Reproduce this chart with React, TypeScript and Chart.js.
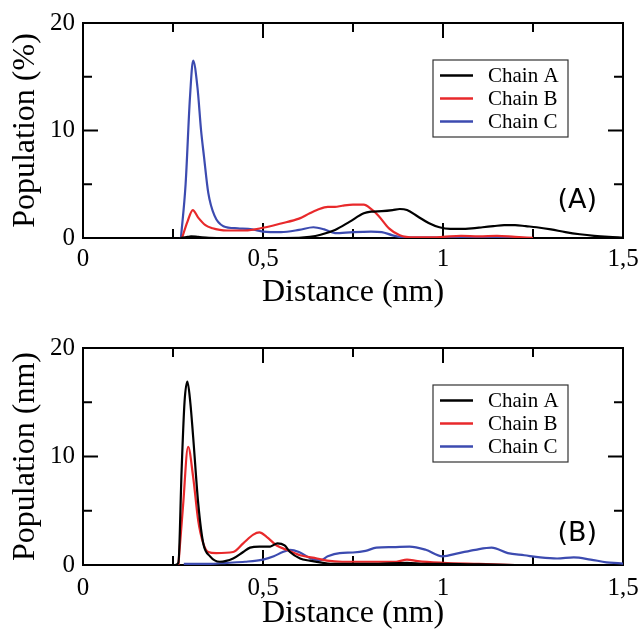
import React, { useEffect, useRef } from 'react';
import { Chart, registerables } from 'chart.js';

Chart.register(...registerables);

// ---------- data ----------
const seriesNames = ['Chain A', 'Chain B', 'Chain C'];
const seriesColors = ['#000000', '#e8292b', '#3c4bb0'];
const xTickStep = 0.5;
const yTickStep = 10;

// Panel (A)
const topAx = [0.27, 0.29, 0.3, 0.32, 0.35, 0.4, 0.5, 0.6, 0.63, 0.66, 0.7, 0.74, 0.78, 0.8, 0.83, 0.86, 0.88, 0.9, 0.93, 0.96, 0.99, 1.02, 1.05, 1.08, 1.11, 1.14, 1.17, 1.2, 1.23, 1.26, 1.3, 1.34, 1.38, 1.42, 1.46, 1.5];
const topAy = [0, 0.1, 0.15, 0.1, 0.02, 0, 0, 0.02, 0.1, 0.3, 0.75, 1.5, 2.3, 2.45, 2.5, 2.6, 2.7, 2.6, 2.0, 1.4, 1.0, 0.85, 0.85, 0.9, 1.0, 1.1, 1.2, 1.2, 1.1, 1.0, 0.8, 0.55, 0.35, 0.2, 0.1, 0.03];
const topBx = [0.275, 0.29, 0.305, 0.32, 0.34, 0.36, 0.38, 0.4, 0.45, 0.5, 0.55, 0.6, 0.63, 0.65, 0.68, 0.7, 0.72, 0.75, 0.78, 0.8, 0.82, 0.85, 0.88, 0.92, 0.96, 1.0, 1.05, 1.1, 1.15, 1.2, 1.25];
const topBy = [0, 1.5, 2.6, 1.9, 1.2, 0.9, 0.75, 0.7, 0.7, 0.95, 1.35, 1.8, 2.3, 2.6, 2.9, 2.9, 3.0, 3.1, 3.1, 2.7, 2.1, 0.9, 0.25, 0.05, 0.05, 0.1, 0.2, 0.15, 0.2, 0.1, 0.02];
const topCx = [0.272, 0.285, 0.297, 0.306, 0.318, 0.328, 0.336, 0.348, 0.365, 0.39, 0.43, 0.47, 0.5, 0.55, 0.6, 0.64, 0.67, 0.7, 0.75, 0.8, 0.83, 0.86, 0.89, 0.95, 1.05, 1.15, 1.22];
const topCy = [0, 5, 13, 16.5, 14, 10, 7.6, 4.2, 2.1, 1.1, 0.9, 0.8, 0.6, 0.55, 0.75, 1.0, 0.8, 0.45, 0.55, 0.6, 0.55, 0.25, 0.05, 0.03, 0.05, 0.03, 0];

// Panel (B)
const botAx = [0.255, 0.265, 0.274, 0.282, 0.29, 0.298, 0.306, 0.32, 0.334, 0.353, 0.38, 0.417, 0.445, 0.464, 0.49, 0.52, 0.54, 0.56, 0.575, 0.603, 0.63, 0.667, 0.7, 0.8, 0.9, 0.95, 1.0, 1.1, 1.2];
const botAy = [0, 0.2, 8.8, 15, 16.9, 15, 11.8, 5.7, 2.0, 0.8, 0.3, 0.6, 1.2, 1.6, 1.7, 1.7, 2.0, 1.8, 1.2, 0.6, 0.4, 0.2, 0.1, 0.1, 0.2, 0.1, 0.1, 0.05, 0];
const botBx = [0.265, 0.278, 0.292, 0.306, 0.32, 0.334, 0.348, 0.37, 0.417, 0.445, 0.473, 0.49, 0.51, 0.538, 0.566, 0.603, 0.65, 0.678, 0.72, 0.8, 0.87, 0.9, 0.93, 1.0, 1.1, 1.2];
const botBy = [0, 5.5, 10.9, 8.1, 4.1, 2.0, 1.2, 1.1, 1.2, 2.0, 2.8, 3.0, 2.6, 1.8, 1.4, 0.9, 0.6, 0.4, 0.3, 0.3, 0.3, 0.5, 0.35, 0.2, 0.1, 0];
const botCx = [0.28, 0.35, 0.4, 0.45, 0.5, 0.53, 0.555, 0.575, 0.6, 0.633, 0.66, 0.68, 0.713, 0.75, 0.785, 0.815, 0.86, 0.907, 0.952, 0.998, 1.044, 1.09, 1.135, 1.18, 1.226, 1.27, 1.317, 1.363, 1.41, 1.454, 1.494, 1.5];
const botCy = [0.1, 0.1, 0.2, 0.3, 0.5, 0.8, 1.2, 1.4, 1.2, 0.6, 0.45, 0.8, 1.1, 1.15, 1.3, 1.6, 1.65, 1.7, 1.4, 0.8, 1.1, 1.4, 1.6, 1.1, 0.9, 0.7, 0.6, 0.7, 0.5, 0.25, 0.15, 0.12];

const SERIF = "'Liberation Serif', 'Times New Roman', serif";

const pts = (xs: number[], ys: number[]) => xs.map((x, i) => ({ x, y: ys[i] }));

const framePlugin = {
  id: 'frame',
  beforeDatasetsDraw(chart: any) {
    const { ctx, chartArea } = chart;
    const { left, right, top, bottom } = chartArea;
    const x = chart.scales.x;
    const y = chart.scales.y;
    ctx.save();
    ctx.strokeStyle = '#000';
    ctx.lineWidth = 2;
    ctx.strokeRect(left, top, right - left, bottom - top);
    ctx.beginPath();
    for (let i = 0; i <= 6; i++) {
      const v = i * 0.25;
      const px = x.getPixelForValue(v);
      const len = i % 2 === 0 ? 15 : 9;
      ctx.moveTo(px, bottom);
      ctx.lineTo(px, bottom - len);
      ctx.moveTo(px, top);
      ctx.lineTo(px, top + len);
    }
    for (let i = 0; i <= 4; i++) {
      const v = i * 5;
      const py = y.getPixelForValue(v);
      const len = i % 2 === 0 ? 15 : 9;
      ctx.moveTo(left, py);
      ctx.lineTo(left + len, py);
      ctx.moveTo(right, py);
      ctx.lineTo(right - len, py);
    }
    ctx.stroke();
    ctx.restore();
  },
  afterDraw(chart: any, _args: any, opts: any) {
    const { ctx, chartArea } = chart;
    const { left, right, top, bottom } = chartArea;
    ctx.save();
    // legend
    const bx = left + 350;
    const by = top + 37;
    const bw = 135;
    const bh = 77;
    ctx.fillStyle = '#fff';
    ctx.fillRect(bx, by, bw, bh);
    ctx.strokeStyle = '#333';
    ctx.lineWidth = 1.2;
    ctx.strokeRect(bx, by, bw, bh);
    ctx.font = `21px ${SERIF}`;
    ctx.textBaseline = 'middle';
    ctx.textAlign = 'left';
    chart.data.datasets.forEach((ds: any, i: number) => {
      const ly = by + 15.5 + i * 23;
      ctx.strokeStyle = ds.borderColor;
      ctx.lineWidth = 2.5;
      ctx.beginPath();
      ctx.moveTo(bx + 7, ly);
      ctx.lineTo(bx + 40, ly);
      ctx.stroke();
      ctx.fillStyle = '#000';
      ctx.fillText(ds.label, bx + 55, ly + 1);
    });
    // panel label
    ctx.font = "27px 'DejaVu Sans', sans-serif";
    ctx.textAlign = 'right';
    ctx.textBaseline = 'middle';
    ctx.fillStyle = '#000';
    ctx.fillText(opts.label, right - 26, bottom - opts.labelOffset);
    ctx.restore();
  },
};

function makeConfig(
  data: { x: number[]; y: number[] }[],
  yTitle: string,
  panel: string,
  labelOffset: number,
  xAxisHeight: number,
  titlePad: number,
  topPad: number,
  tickPad: number
): any {
  return {
    type: 'line',
    data: {
      datasets: data.map((d, i) => ({
        label: seriesNames[i],
        data: pts(d.x, d.y),
        borderColor: seriesColors[i],
        backgroundColor: seriesColors[i],
        borderWidth: 2.2,
        pointRadius: 0,
        fill: false,
        cubicInterpolationMode: 'monotone',
      })),
    },
    options: {
      responsive: false,
      animation: false,
      layout: { padding: { top: topPad, right: 20, bottom: 0, left: 0 } },
      plugins: {
        legend: { display: false },
        tooltip: { enabled: false },
        frame: { label: panel, labelOffset },
      },
      scales: {
        x: {
          type: 'linear',
          min: 0,
          max: 1.5,
          grid: { display: false, drawTicks: false },
          border: { display: false },
          ticks: {
            stepSize: xTickStep,
            autoSkip: false,
            maxRotation: 0,
            padding: tickPad,
            color: '#000',
            font: { family: SERIF, size: 25 },
            callback: (v: number) => String(v).replace('.', ','),
          },
          title: {
            display: true,
            text: 'Distance (nm)',
            color: '#000',
            font: { family: SERIF, size: 32 },
            padding: { top: 0, bottom: titlePad },
          },
          afterFit: (s: any) => {
            s.height = xAxisHeight;
            s.paddingLeft = 0;
            s.paddingRight = 0;
          },
        },
        y: {
          type: 'linear',
          min: 0,
          max: 20,
          grid: { display: false, drawTicks: false },
          border: { display: false },
          ticks: {
            stepSize: yTickStep,
            padding: 8,
            color: '#000',
            font: { family: SERIF, size: 25 },
          },
          title: {
            display: true,
            text: yTitle,
            color: '#000',
            font: { family: SERIF, size: 32 },
            padding: { top: 6, bottom: 0 },
          },
          afterFit: (s: any) => {
            s.width = 83;
          },
        },
      },
    },
    plugins: [framePlugin],
  };
}

function Panel(props: { config: any; height: number }) {
  const ref = useRef<HTMLCanvasElement | null>(null);
  useEffect(() => {
    if (!ref.current) return;
    const chart = new Chart(ref.current, props.config);
    return () => chart.destroy();
  }, []);
  return <canvas ref={ref} width={643} height={props.height} style={{ display: 'block', width: 643, height: props.height }} />;
}

export default function App() {
  const topCfg = makeConfig(
    [
      { x: topAx, y: topAy },
      { x: topBx, y: topBy },
      { x: topCx, y: topCy },
    ],
    'Population (%)',
    '(A)',
    37,
    77,
    3,
    23,
    6
  );
  const botCfg = makeConfig(
    [
      { x: botAx, y: botAy },
      { x: botBx, y: botBy },
      { x: botCx, y: botCy },
    ],
    'Population (nm)',
    '(B)',
    31,
    66,
    -2,
    33,
    8
  );
  return (
    <div style={{ position: 'absolute', left: 0, top: 0, width: 643, height: 631, background: '#fff' }}>
      <Panel config={topCfg} height={315} />
      <Panel config={botCfg} height={316} />
    </div>
  );
}
